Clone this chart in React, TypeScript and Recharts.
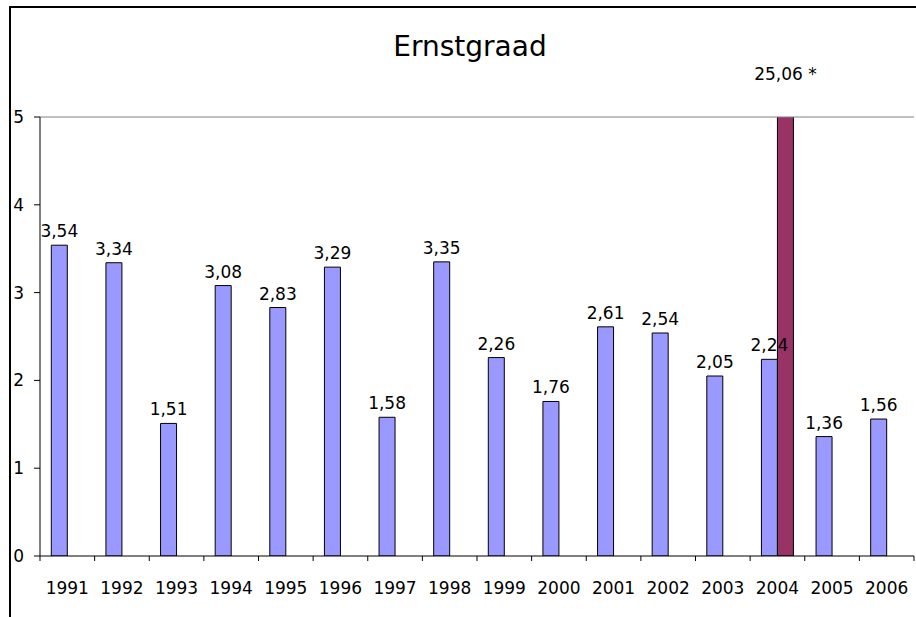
import { Bar, BarChart, LabelList, ReferenceLine, XAxis, YAxis } from "recharts";

const YEARS = ["1991", "1992", "1993", "1994", "1995", "1996", "1997", "1998", "1999", "2000", "2001", "2002", "2003", "2004", "2005", "2006"];
const SEVERITY = [3.54, 3.34, 1.51, 3.08, 2.83, 3.29, 1.58, 3.35, 2.26, 1.76, 2.61, 2.54, 2.05, 2.24, 1.36, 1.56];
const OUTLIER = [null, null, null, null, null, null, null, null, null, null, null, null, null, 25.06, null, null];
const Y_TICKS = [0, 1, 2, 3, 4, 5];
const Y_MAX = 5;

const FONT = "'DejaVu Sans', Verdana, sans-serif";

const data = YEARS.map((year, i) => ({ year, value: SEVERITY[i], outlier: OUTLIER[i] }));

const fmt = (v: number) => v.toFixed(2).replace(".", ",");

function YearTick(props: any) {
  const { x, y, payload, index, visibleTicksCount } = props;
  const half = payload.offset || 0;
  return (
    <g>
      <line x1={x - half} x2={x - half} y1={y} y2={y + 5} stroke="#000" />
      {index === visibleTicksCount - 1 && (
        <line x1={x + half} x2={x + half} y1={y} y2={y + 5} stroke="#000" />
      )}
      <text x={x} y={y + 38} textAnchor="middle" fontSize={17} fontFamily={FONT} fill="#000">
        {payload.value}
      </text>
    </g>
  );
}

function OutlierLabel(props: any) {
  const { x, y, width, height, value } = props;
  if (value == null) return null;
  const bottom = y + height;
  const top = bottom - height * (Y_MAX / value);
  return (
    <text x={x + width / 2} y={top - 37} textAnchor="middle" fontSize={17} fontFamily={FONT} fill="#000">
      {fmt(value) + " *"}
    </text>
  );
}

export default function App() {
  return (
    <div style={{ position: "absolute", left: 0, top: 0, width: 916, height: 617, overflow: "hidden", background: "#fff" }}>
      <div
        style={{
          position: "absolute",
          left: 9,
          top: 6,
          width: 920,
          height: 620,
          borderLeft: "2px solid #000",
          borderTop: "2px solid #000",
        }}
      />
      <div
        style={{
          position: "absolute",
          left: 0,
          top: 30,
          width: 940,
          textAlign: "center",
          fontFamily: FONT,
          fontSize: 28,
          color: "#000",
          lineHeight: "34px",
        }}
      >
        Ernstgraad
      </div>
      <div style={{ position: "absolute", left: 0, top: 0 }}>
        <BarChart
          width={916}
          height={617}
          data={data}
          margin={{ top: 117, right: 2, bottom: 0, left: 0 }}
          barCategoryGap="20.7%"
          barGap={0}
        >
          <XAxis
            dataKey="year"
            height={61}
            axisLine={{ stroke: "#000" }}
            tickLine={false}
            tickSize={0}
            tickMargin={0}
            interval={0}
            tick={<YearTick />}
          />
          <YAxis
            yAxisId="l"
            width={40}
            domain={[0, Y_MAX]}
            ticks={Y_TICKS}
            allowDataOverflow
            axisLine={{ stroke: "#000" }}
            tickLine={{ stroke: "#000" }}
            tickSize={6}
            tickMargin={10}
            tick={{ fill: "#000", fontSize: 17, fontFamily: FONT }}
          />
          <YAxis
            yAxisId="r"
            orientation="right"
            width={0}
            domain={[0, Y_MAX]}
            tick={false}
            tickLine={false}
            axisLine={{ stroke: "#808080" }}
          />
          <ReferenceLine yAxisId="l" y={Y_MAX} stroke="#808080" />
          <Bar yAxisId="l" dataKey="value" fill="#9999FF" stroke="#000" strokeWidth={1} isAnimationActive={false}>
            <LabelList
              dataKey="value"
              position="top"
              offset={8}
              formatter={(v: any) => fmt(Number(v))}
              style={{ fill: "#000", fontSize: 17, fontFamily: FONT }}
            />
          </Bar>
          <Bar yAxisId="l" dataKey="outlier" fill="#993366" stroke="#000" strokeWidth={1} isAnimationActive={false}>
            <LabelList dataKey="outlier" content={<OutlierLabel />} />
          </Bar>
        </BarChart>
      </div>
    </div>
  );
}
